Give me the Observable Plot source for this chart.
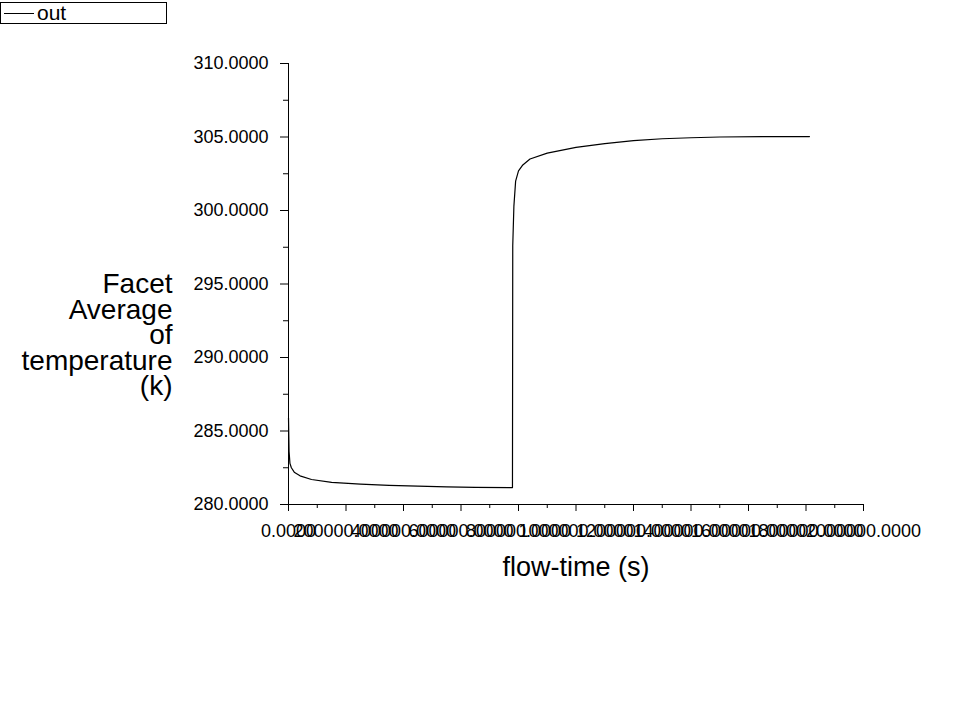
<!DOCTYPE html>
<html>
<head>
<meta charset="utf-8">
<script src="https://cdn.jsdelivr.net/npm/d3@7"></script>
<script src="https://cdn.jsdelivr.net/npm/@observablehq/plot@0.6"></script>
<style>
  html, body { margin: 0; padding: 0; background: #fff; }
  #legend { position: relative; height: 25px; width: 960px; font-family: "Liberation Sans", Arial, sans-serif; }
  #legend .box { position: absolute; left: 0; top: 2px; width: 165px; height: 20px; border: 1px solid #000; box-sizing: content-box; }
  #legend .swatch { position: absolute; left: 3px; top: 10px; width: 30px; height: 0; border-top: 1px solid #000; }
  #legend .lab { position: absolute; left: 36px; top: -2px; font-size: 21px; line-height: 24px; color: #000; }
</style>
</head>
<body>
<div id="legend"><div class="box"><div class="swatch"></div><div class="lab">out</div></div></div>
<div id="chart"></div>
<script>
// Series "out": flow-time (s) vs facet average temperature (k)
const seriesName = "out";
const flowTime = [0, 2000, 5000, 10000, 20000, 40000, 80000, 150000, 250000, 350000, 450000, 550000, 650000, 770000, 779000,
  780000, 784000, 790000, 800000, 815000, 840000, 900000, 1000000, 1100000, 1200000, 1300000, 1400000, 1500000, 1650000, 1812000];
const temperature = [285.9, 283.6, 282.8, 282.5, 282.2, 281.95, 281.7, 281.5, 281.38, 281.3, 281.25, 281.2, 281.17, 281.15, 281.15,
  297.6, 300.3, 302.0, 302.7, 303.1, 303.5, 303.9, 304.3, 304.55, 304.75, 304.88, 304.95, 305.0, 305.02, 305.03];

const xTicks = [0, 200000, 400000, 600000, 800000, 1000000, 1200000, 1400000, 1600000, 1800000, 2000000];
const xMinorTicks = [100000, 300000, 500000, 700000, 900000, 1100000, 1300000, 1500000, 1700000, 1900000];
const yTicks = [280, 285, 290, 295, 300, 305, 310];
const yMinorTicks = [282.5, 287.5, 292.5, 297.5, 302.5, 307.5];
const xLabel = "flow-time (s)";
const yLabel = "Facet\nAverage\nof\ntemperature\n(k)";

const data = flowTime.map((t, i) => ({t, v: temperature[i]}));
const fmt = d3.format(".4f");

const chart = Plot.plot({
  width: 960,
  height: 695,
  marginLeft: 288,
  marginRight: 97,
  marginTop: 38,
  marginBottom: 216,
  style: {fontFamily: "'Liberation Sans', Arial, sans-serif", fontSize: "18px", color: "#000", background: "#fff", overflow: "visible"},
  x: {domain: [0, 2000000]},
  y: {domain: [280, 310]},
  marks: [
    Plot.axisY(yTicks, {tickSize: 8, tickPadding: 12, tickFormat: fmt, fontSize: 18, label: null, stroke: "#000", fill: "#000"}),
    Plot.axisY(yMinorTicks, {tickSize: 5, text: null, label: null, stroke: "#000"}),
    Plot.axisX(xTicks, {tickSize: 7, tickPadding: 13, tickFormat: fmt, fontSize: 18, label: null, stroke: "#000", fill: "#000"}),
    Plot.axisX(xMinorTicks, {tickSize: 4, text: null, label: null, stroke: "#000"}),
    Plot.ruleY([280], {stroke: "#000"}),
    Plot.ruleX([0], {stroke: "#000"}),
    Plot.line(data, {x: "t", y: "v", stroke: "#000", strokeWidth: 1.2}),
    Plot.text([yLabel], {frameAnchor: "left", dx: -116, dy: 52, textAnchor: "end", fontSize: 28, lineHeight: 0.91, fill: "#000"}),
    Plot.text([xLabel], {frameAnchor: "bottom", dy: 71, textAnchor: "middle", fontSize: 27, fill: "#000"})
  ]
});
document.getElementById("chart").appendChild(chart);
</script>
</body>
</html>
